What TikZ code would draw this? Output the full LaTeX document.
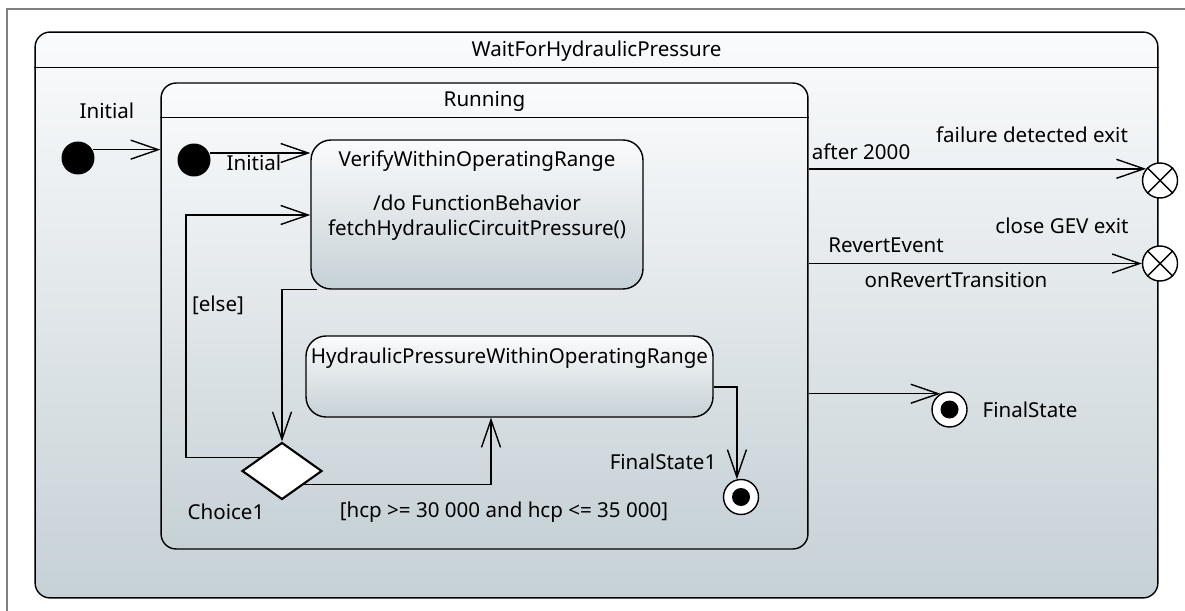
\documentclass[tikz,border=0pt]{standalone}
\usepackage{fontspec}
\setmainfont{Noto Sans}
\usetikzlibrary{arrows.meta, positioning, calc, shapes.geometric}
\definecolor{stateTop}{RGB}{250,251,252}
\definecolor{stateBottom}{RGB}{198,209,214}
\definecolor{frameGray}{RGB}{128,128,128}
\tikzset{
    smdiagram/.style={x=0.02cm, y=-0.02cm, >={Straight Barb[length=5.5mm, width=3.8mm]}, line width=0.8pt, font=\fontsize{11.7}{14.2}\selectfont},
    compstate/.style={draw, rounded corners=0.3cm, top color=stateTop, bottom color=stateBottom, inner sep=0pt},
    simplestate/.style={draw, rounded corners=0.4cm, top color=stateTop, bottom color=stateBottom, inner sep=0pt},
    statename/.style={inner sep=1pt},
    lbl/.style={inner sep=1pt},
    initdot/.style={circle, fill, inner sep=0pt, minimum size=0.66cm},
    finaldot/.style={circle, draw, fill=white, inner sep=0pt, minimum size=0.7cm,
        path picture={\fill[black] (path picture bounding box.center) circle (0.18cm);}},
    exitdot/.style={circle, draw, fill=white, inner sep=0pt, minimum size=0.7cm},
    choicept/.style={diamond, draw, fill=white, inner sep=0pt, line width=1.2pt, minimum width=1.6cm, minimum height=1.14cm},
}

\begin{document}
\begin{tikzpicture}[smdiagram]
    \useasboundingbox (0,0) rectangle (1185,611);
    \draw[frameGray, line width=0.6pt] (7,611) -- (7,9) -- (1185,9);

    % composite states
    \node[compstate, minimum width=22.46cm, minimum height=11.32cm] (wait) at (596.5,315) {};
    \draw ($(wait.north west)+(0,36)$) -- ($(wait.north east)+(0,36)$);
    \node[statename] (waitname) at (596.5,51) {WaitForHydraulicPressure};

    \node[compstate, minimum width=12.94cm, minimum height=9.32cm] (run) at (484.5,316) {};
    \draw ($(run.north west)+(0,35)$) -- ($(run.north east)+(0,35)$);
    \node[statename] (runname) at (484.5,101) {Running};

    % simple states
    \node[simplestate, minimum width=6.64cm, minimum height=2.98cm] (vr) at (477,214.5) {};
    \node[statename] (vrname) at (477,161) {VerifyWithinOperatingRange};
    \node[statename, align=center] (vrdo) at (477,218) {/do FunctionBehavior\\fetchHydraulicCircuitPressure()};

    \node[simplestate, minimum width=8.14cm, minimum height=1.62cm] (hp) at (509.5,376.5) {};
    \node[statename] (hpname) at (509.5,358) {HydraulicPressureWithinOperatingRange};

    % pseudo states
    \node[initdot] (ini0) at (78,158) {};
    \node[initdot] (ini1) at (194,160) {};
    \node[choicept] (ch) at (282,471) {};
    \node[finaldot] (fs1) at (741,497) {};
    \node[finaldot] (fs) at (949.5,409.5) {};
    \node[exitdot] (ex1) at (1160,180.5) {};
    \node[exitdot] (ex2) at (1160,263.5) {};
    \draw (ex1.45) -- (ex1.225) (ex1.135) -- (ex1.315);
    \draw (ex2.45) -- (ex2.225) (ex2.135) -- (ex2.315);

    % transitions
    \coordinate (elsebend) at (186,215);
    \draw[->] (ini0.29) -- (run.west |- ini0.29);
    \draw[->] (ini1.24) -- (vr.west |- ini1.24);
    \draw[->] ($(vr.south west)+(7,0)$) -| (ch.north);
    \draw[->] (ch.149) -| (elsebend) -- (vr.west |- elsebend);
    \draw[->] (ch.-31) -| ($(hp.south)+(-18.5,0)$);
    \draw[->] (hp.east |- 0,387) -| (fs1.103);
    \draw[->] (run.east |- ex1.140) -- (ex1.140);
    \draw[->] (run.east |- ex2.west) -- (ex2.west);
    \draw[->] (run.east |- fs.120) -- (fs.120);

    % labels
    \node[lbl] (ini0lbl) at (107,111) {Initial};
    \node[lbl] (ini1lbl) at (254,163) {Initial};
    \node[lbl] (elselbl) at (218,305) {[else]};
    \node[lbl] (chlbl) at (226,512) {Choice1};
    \node[lbl] (guardlbl) at (504,512) {[hcp >= 30 000 and hcp <= 35 000]};
    \node[lbl] (fs1lbl) at (663,462) {FinalState1};
    \node[lbl] (fslbl) at (1030,410) {FinalState};
    \node[lbl] (afterlbl) at (861,152) {after 2000};
    \node[lbl] (ex1lbl) at (1032,135) {failure detected exit};
    \node[lbl] (revlbl) at (886,245) {RevertEvent};
    \node[lbl] (ex2lbl) at (1062,226) {close GEV exit};
    \node[lbl] (efflbl) at (956,280) {onRevertTransition};
\end{tikzpicture}
\end{document}
